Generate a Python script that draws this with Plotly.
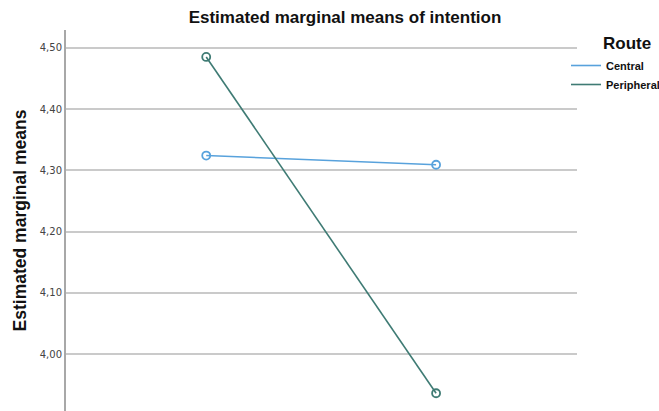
import plotly.graph_objects as go

categories = ["Level 1", "Level 2"]
central = [4.324, 4.309]
peripheral = [4.485, 3.936]
series_names = ["Central", "Peripheral"]
colors = ["#58a2dc", "#3f7b74"]
yticks = [4.0, 4.1, 4.2, 4.3, 4.4, 4.5]

fig = go.Figure()
for name, vals, col in zip(series_names, [central, peripheral], colors):
    # line (shown in legend as a plain line)
    fig.add_trace(go.Scatter(
        x=[0, 1], y=vals, name=name, mode="lines", legendgroup=name,
        line=dict(color=col, width=1.6),
    ))
    # open circle markers
    fig.add_trace(go.Scatter(
        x=[0, 1], y=vals, name=name, mode="markers", legendgroup=name, showlegend=False,
        marker=dict(symbol="circle-open", size=8, color=col, line=dict(width=1.8)),
    ))

fig.update_layout(
    width=659, height=411,
    margin=dict(l=66, r=82, t=30, b=0, autoexpand=False),
    paper_bgcolor="white", plot_bgcolor="white",
    separators=",.",
    title=dict(text="<b>Estimated marginal means of intention</b>",
               x=(345 - 66) / 511, xanchor="center", y=1 - 17/411, yanchor="middle",
               yref="container", xref="paper",
               font=dict(family="Liberation Sans, Arial", size=17, color="#111")),
    showlegend=True,
    legend=dict(x=(566 - 66) / 511, xanchor="left", y=1 - 21/381, yanchor="top",
                font=dict(family="Liberation Sans, Arial", size=11, color="#111", weight="bold"),
                itemwidth=30, tracegroupgap=0, bgcolor="rgba(0,0,0,0)"),
    annotations=[dict(text="<b>Route</b>", x=(627 - 66) / 511, y=1 - 13/381,
                      xref="paper", yref="paper", xanchor="center", yanchor="middle",
                      showarrow=False,
                      font=dict(family="Liberation Sans, Arial", size=17, color="#111"))],
    xaxis=dict(range=[-0.61, 1.613], showgrid=False, zeroline=False, showline=False,
               showticklabels=False, ticks="", tickvals=[0, 1], ticktext=categories),
    yaxis=dict(range=[3.907, 4.529], tickvals=yticks, tickformat=".2f",
               showgrid=True, gridcolor="#cacaca", gridwidth=1.5, zeroline=False,
               showline=True, linecolor="#a8a8a8", linewidth=2, ticks="",
               tickfont=dict(family="DejaVu Sans", size=10, color="#444"),
               title=dict(text="<b>Estimated marginal means</b>", standoff=9,
                          font=dict(family="Liberation Sans, Arial", size=17.5, color="#111"))),
)

fig.write_html("out.html", config={"displayModeBar": False},
               post_script="document.body.style.margin='0';")
